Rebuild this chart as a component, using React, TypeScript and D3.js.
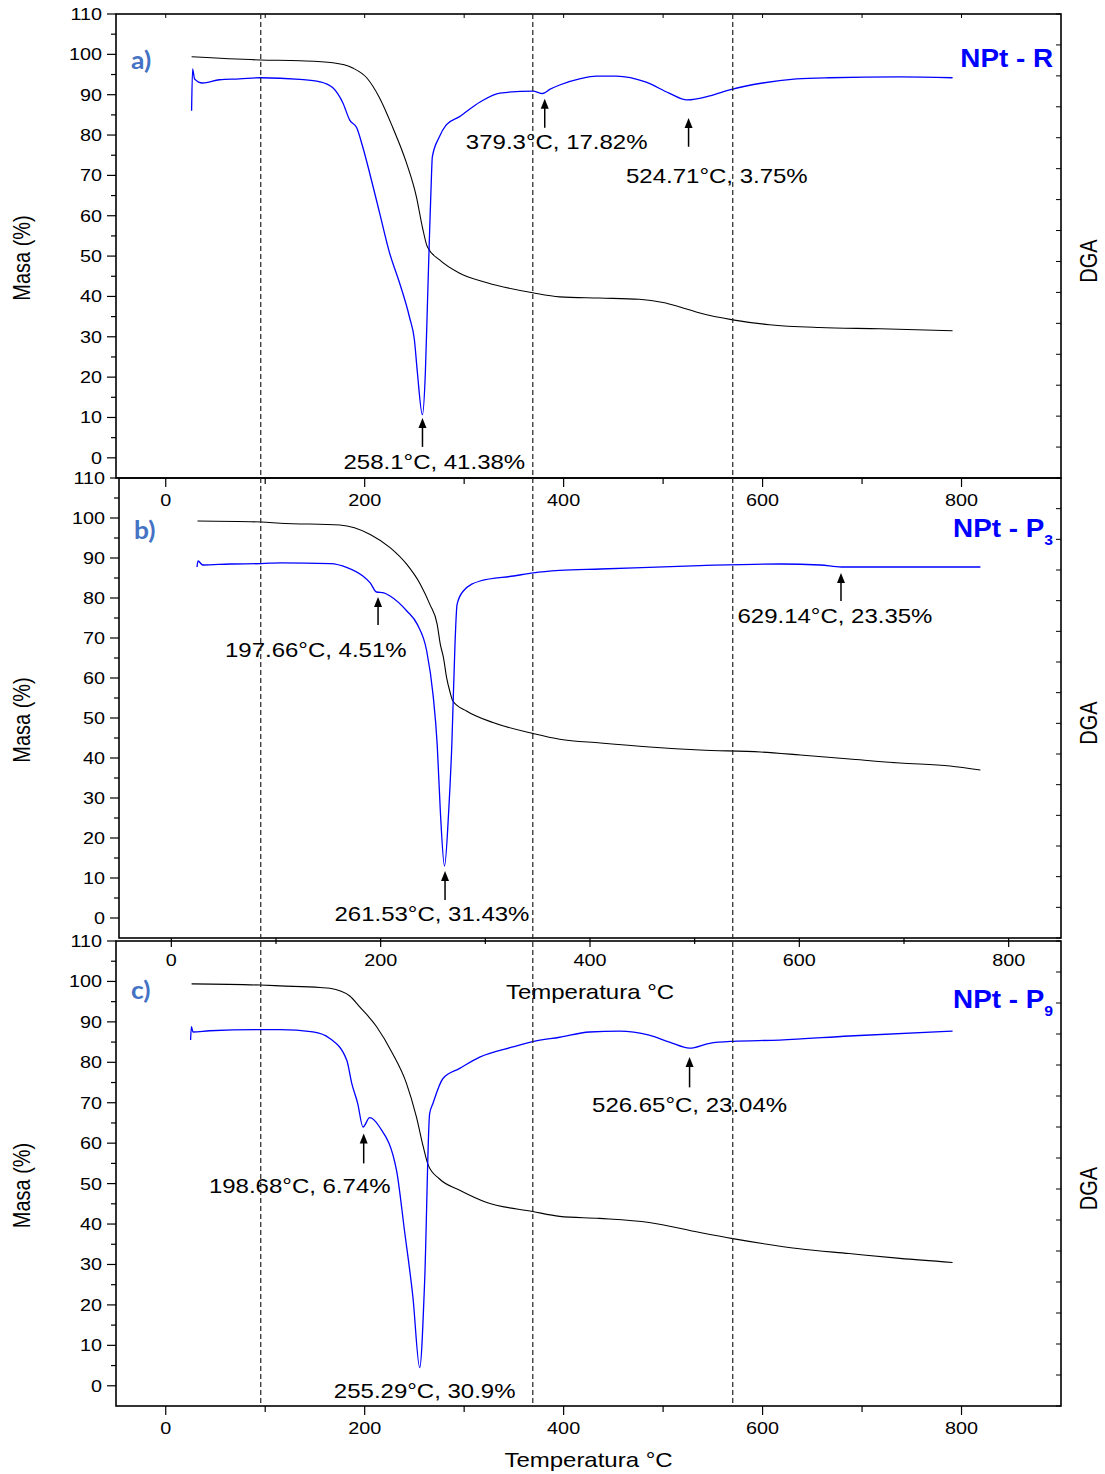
import * as d3 from "d3";

// a) NPt - R  (temperature °C / value)
const tgaTempA = [26, 95, 135, 168, 188, 202, 215, 228, 242, 252, 258, 263, 275, 295, 323, 369, 396, 436, 476, 500, 517, 537, 570, 607, 657, 718, 791];
const tgaMassA = [99.4, 98.6, 98.4, 97.9, 96.6, 94.2, 89.2, 82.0, 73.1, 64.7, 57.2, 52.3, 49.1, 45.8, 43.4, 40.9, 39.9, 39.6, 39.3, 38.5, 37.4, 35.9, 34.2, 33.0, 32.3, 32.0, 31.5];
const dgaTempA = [26, 27, 29, 37, 54, 74, 95, 135, 155, 168, 178, 185, 192, 198, 205, 215, 225, 235, 245, 250, 253, 258, 261, 263, 265, 267, 268, 275, 282, 295, 316, 336, 369, 379, 386, 396, 416, 433, 453, 483, 506, 524, 547, 567, 600, 634, 667, 738, 791];
const dgaValA = [86.0, 96.4, 93.9, 92.9, 93.7, 93.9, 94.2, 93.8, 93.2, 91.7, 88.0, 83.7, 81.8, 77.1, 70.6, 60.7, 50.8, 43.4, 34.9, 29.2, 21.1, 10.7, 21.1, 37.4, 54.0, 68.9, 74.6, 79.5, 82.5, 84.5, 88.2, 90.4, 90.9, 90.3, 91.3, 92.4, 93.9, 94.6, 94.6, 93.1, 90.4, 88.7, 89.7, 91.2, 92.9, 93.9, 94.2, 94.4, 94.2];

// b) NPt - P3
const tgaTempB = [25, 86, 104, 161, 190, 209, 225, 238, 247, 254, 257, 260, 263, 266, 269, 282, 308, 346, 371, 410, 457, 505, 563, 601, 648, 696, 744, 773];
const tgaMassB = [99.25, 99.0, 98.7, 98.25, 95.9, 92.6, 88.4, 83.4, 78.4, 73.4, 68.4, 65.1, 60.1, 56.75, 54.25, 51.75, 48.8, 46.1, 44.7, 43.75, 42.75, 42.0, 41.5, 40.75, 39.75, 38.75, 38.0, 37.0];
const dgaTempB = [24.5, 25.5, 30, 56, 86, 104, 152, 168, 183, 190, 196, 203, 209, 225, 235, 244, 250, 254, 257, 261, 265, 268, 271, 273, 279, 295, 327, 346, 371, 410, 505, 582, 620, 640, 677, 773];
const dgaValB = [87.75, 89.25, 88.25, 88.5, 88.6, 88.8, 88.6, 87.6, 85.5, 83.8, 81.5, 81.3, 80.5, 76.75, 73.4, 66.75, 55.9, 43.4, 26.75, 13.0, 26.75, 43.4, 68.4, 78.4, 81.75, 84.25, 85.5, 86.3, 86.9, 87.25, 88.1, 88.5, 88.25, 87.75, 87.75, 87.75];

// c) NPt - P9
const tgaTempC = [26, 95, 115, 155, 165, 185, 195, 212, 228, 242, 252, 259, 264, 275, 296, 322, 369, 396, 436, 486, 537, 570, 637, 687, 738, 791];
const tgaMassC = [99.4, 99.1, 98.9, 98.5, 98.3, 96.4, 93.7, 88.8, 82.2, 74.8, 66.5, 59.0, 54.5, 51.2, 48.3, 45.4, 43.1, 41.9, 41.4, 40.4, 37.9, 36.4, 33.9, 32.7, 31.5, 30.5];
const dgaTempC = [25, 25.8, 27.4, 44, 94.5, 115, 148, 165, 182, 187, 193, 198.3, 205, 215, 232, 240, 248.5, 255.3, 260.3, 265.3, 268.6, 278.7, 295.5, 315.6, 349, 369, 396, 426, 456, 486, 506.5, 526.6, 546.7, 570, 617, 687, 791];
const dgaValC = [85.5, 88.8, 87.5, 87.8, 88.1, 88.1, 87.5, 85.9, 80.5, 74.8, 69.8, 64.0, 66.3, 64.0, 53.3, 38.4, 21.9, 4.5, 26.0, 67.3, 69.8, 76.0, 78.5, 81.3, 83.8, 85.1, 86.2, 87.5, 87.7, 86.7, 85.0, 83.5, 84.7, 85.2, 85.5, 86.5, 87.7];

// peak labels: arrow at `at`, from tail up to tip; text centred at (tx, ty)
const notesA = [
  { text: "258.1°C, 41.38%", at: 258.1, tip: 9.9, tail: 2.7, tx: 270, ty: -2.7 },
  { text: "379.3°C, 17.82%", at: 381, tip: 89.0, tail: 81.8, tx: 393, ty: 76.6 },
  { text: "524.71°C, 3.75%", at: 525.6, tip: 84.2, tail: 77.1, tx: 554, ty: 68.1 },
];
const notesB = [
  { text: "197.66°C, 4.51%", at: 197.5, tip: 80.25, tail: 73.25, tx: 138, ty: 65.25 },
  { text: "261.53°C, 31.43%", at: 261.5, tip: 11.75, tail: 4.5, tx: 249, ty: -0.75 },
  { text: "629.14°C, 23.35%", at: 639.8, tip: 86.25, tail: 79.25, tx: 634, ty: 73.75 },
];
const notesC = [
  { text: "198.68°C, 6.74%", at: 199, tip: 62.4, tail: 55.0, tx: 134.7, ty: 47.6 },
  { text: "255.29°C, 30.9%", at: null, tip: 0, tail: 0, tx: 260.3, ty: -3.0 },
  { text: "526.65°C, 23.04%", at: 526.6, tip: 81.3, tail: 73.8, tx: 526.6, ty: 67.6 },
];

const xTickValues = [0, 200, 400, 600, 800];
const xMinorValues = [100, 300, 500, 700];
const yTickValues = [0, 10, 20, 30, 40, 50, 60, 70, 80, 90, 100, 110];
const yMinorValues = [5, 15, 25, 35, 45, 55, 65, 75, 85, 95, 105];
const dashedTemps = [95.5, 369, 570];

const FONT = "Liberation Sans, Arial, sans-serif";
const SX = 1.2; // the source figure is stretched horizontally

const panels = [
  { tag: "a)", name: "NPt - R", sub: "", left: 116, right: 1061, top: 14, bottom: 478, tagDy: 0, nameDy: 0, xDomain: [-50, 900], tgaT: tgaTempA, tgaM: tgaMassA, dgaT: dgaTempA, dgaV: dgaValA, notes: notesA, xTitle: false },
  { tag: "b)", name: "NPt - P", sub: "3", left: 119, right: 1061, top: 478, bottom: 938, tagDy: 6, nameDy: 6, xDomain: [-50, 850], tgaT: tgaTempB, tgaM: tgaMassB, dgaT: dgaTempB, dgaV: dgaValB, notes: notesB, xTitle: true },
  { tag: "c)", name: "NPt - P", sub: "9", left: 116, right: 1061, top: 941, bottom: 1406, tagDy: 3, nameDy: 14, xDomain: [-50, 900], tgaT: tgaTempC, tgaM: tgaMassC, dgaT: dgaTempC, dgaV: dgaValC, notes: notesC, xTitle: true },
];

function Txt({ x, y, size, anchor = "middle", sx = SX, weight = "normal", fill = "#000", family = FONT, children }: any) {
  return (
    <text transform={`translate(${x},${y}) scale(${sx},1)`} fontSize={size} textAnchor={anchor}
      fontWeight={weight} fill={fill} fontFamily={family}>
      {children}
    </text>
  );
}

function Panel({ p, idx }: any) {
  const x = d3.scaleLinear().domain(p.xDomain).range([p.left, p.right]);
  const y = d3.scaleLinear().domain([-5, 110]).range([p.bottom, p.top]);
  const yDga = d3.scaleLinear().domain([0, 15]).range([p.bottom, p.top]);
  const line = d3.line<number[]>().x(d => x(d[0])).y(d => y(d[1])).curve(d3.curveMonotoneX);
  const tga = line(d3.zip(p.tgaT, p.tgaM) as any);
  const dga = line(d3.zip(p.dgaT, p.dgaV) as any);
  const mid = (p.top + p.bottom) / 2;

  return (
    <g>
      <path d={tga || ""} fill="none" stroke="#000" strokeWidth={1.1} />
      <path d={dga || ""} fill="none" stroke="#0000ff" strokeWidth={1.3} />

      <rect x={p.left} y={p.top} width={p.right - p.left} height={p.bottom - p.top} fill="none" stroke="#000" strokeWidth={1.6} />

      {/* left axis */}
      {yTickValues.map(v => (
        <g key={"y" + v}>
          <line x1={p.left - 9} x2={p.left} y1={y(v)} y2={y(v)} stroke="#000" strokeWidth={1.2} />
          <Txt x={p.left - 14} y={y(v) + 6} size={16.5} anchor="end">{v}</Txt>
        </g>
      ))}
      {yMinorValues.map(v => (
        <line key={"ym" + v} x1={p.left - 5} x2={p.left} y1={y(v)} y2={y(v)} stroke="#000" strokeWidth={1.2} />
      ))}

      {/* right DGA axis, unlabeled */}
      {yDga.ticks(15).map(v => (
        <line key={"r" + v} x1={p.right - 5} x2={p.right} y1={yDga(v)} y2={yDga(v)} stroke="#000" strokeWidth={1} />
      ))}

      {/* bottom axis */}
      {xTickValues.map(v => (
        <g key={"x" + v}>
          <line x1={x(v)} x2={x(v)} y1={p.bottom} y2={p.bottom + 9} stroke="#000" strokeWidth={1.2} />
          <Txt x={x(v)} y={p.bottom + 28} size={16.5}>{v}</Txt>
        </g>
      ))}
      {xMinorValues.map(v => (
        <line key={"xm" + v} x1={x(v)} x2={x(v)} y1={p.bottom} y2={p.bottom + 6} stroke="#000" strokeWidth={1.2} />
      ))}
      {idx === 0 && [...xTickValues, ...xMinorValues].map(v => (
        <line key={"t" + v} x1={x(v)} x2={x(v)} y1={p.top} y2={p.top + 4} stroke="#000" strokeWidth={1} />
      ))}

      {p.xTitle && <Txt x={(p.left + p.right) / 2} y={p.bottom + 61} size={20}>Temperatura °C</Txt>}

      <text transform={`translate(30,${mid + 12}) rotate(-90) scale(1,${SX})`} fontSize={20} textAnchor="middle" fontFamily={FONT}>Masa (%)</text>
      <text transform={`translate(1097,${mid + 15}) rotate(-90) scale(1,${SX})`} fontSize={20} textAnchor="middle" fontFamily={FONT}>DGA</text>

      <Txt x={p.left + 15} y={p.top + 55 + p.tagDy} size={24} anchor="start" sx={1.1} weight="bold" fill="#4472c4" family="Lato, Open Sans, sans-serif">{p.tag}</Txt>

      <text transform={`translate(${p.right - 8},${p.top + 53 + p.nameDy}) scale(1.05,1)`} fontSize={26.5} fontWeight="bold" fill="#0000ff" textAnchor="end" fontFamily={FONT}>
        {p.name}
        {p.sub && <tspan fontSize={15} dy={8}>{p.sub}</tspan>}
      </text>

      {p.notes.map((n: any) => (
        <g key={n.text}>
          {n.at !== null && (
            <g>
              <line x1={x(n.at)} x2={x(n.at)} y1={y(n.tail)} y2={y(n.tip) + 8} stroke="#000" strokeWidth={1.5} />
              <path d={`M${x(n.at)},${y(n.tip)} l-4,10 l8,0 Z`} fill="#000" />
            </g>
          )}
          <Txt x={x(n.tx)} y={y(n.ty)} size={20}>{n.text}</Txt>
        </g>
      ))}
    </g>
  );
}

export default function App() {
  const first = panels[0];
  const last = panels[panels.length - 1];
  const xa = d3.scaleLinear().domain(first.xDomain).range([first.left, first.right]);
  return (
    <svg width={1105} height={1474} style={{ position: "absolute", left: 0, top: 0, background: "#fff" }}>
      <rect width={1105} height={1474} fill="#fff" />
      {panels.map((p, i) => <Panel key={p.tag} p={p} idx={i} />)}
      {dashedTemps.map(t => (
        <line key={t} x1={xa(t)} x2={xa(t)} y1={first.top} y2={last.bottom} stroke="#222" strokeWidth={1.2} strokeDasharray="5,3" />
      ))}
    </svg>
  );
}
